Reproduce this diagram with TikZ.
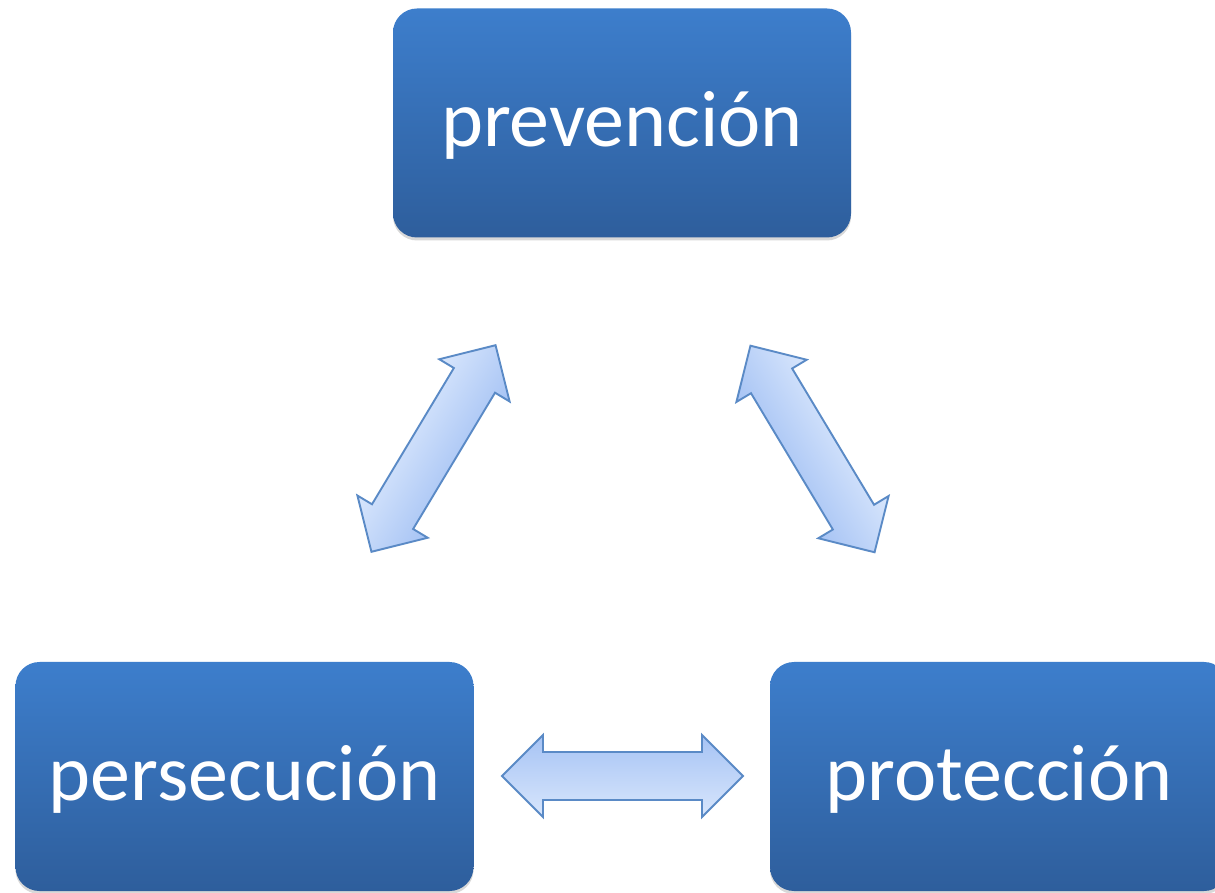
\documentclass[tikz,border=0pt]{standalone}
\usepackage{fontspec}
\setmainfont{Carlito}
\usetikzlibrary{shadows}
\definecolor{boxtop}{HTML}{3D7ECC}
\definecolor{boxbot}{HTML}{2E5E9C}
\definecolor{arrtop}{HTML}{A6C3F4}
\definecolor{arrbot}{HTML}{D8E6FC}
\definecolor{arrline}{HTML}{5A8AC6}
\tikzset{
  box/.style={rectangle, rounded corners=24pt, minimum width=458pt, minimum height=229pt,
    inner sep=0pt, top color=boxtop, bottom color=boxbot, text=white,
    font=\fontsize{80}{96}\selectfont, text height=62pt, text depth=14pt,
    drop shadow={shadow xshift=0pt, shadow yshift=-3pt, opacity=0.25, fill=black!60}},
  blockarrow/.style={draw=arrline, line width=1.9pt, line join=miter,
    top color=arrtop, bottom color=arrbot},
}
\newcommand{\dblarrowpath}{(-120.5,0) -- (-79.5,41) -- (-79.5,24) -- (79.5,24) -- (79.5,41) -- (120.5,0) -- (79.5,-41) -- (79.5,-24) -- (-79.5,-24) -- (-79.5,-41) -- cycle}
\begin{document}
\begin{tikzpicture}[x=1pt,y=1pt]
\useasboundingbox (0,0) rectangle (1215,892);
\fill[white] (0,0) rectangle (1215,892);
% boxes
\node[box] (prev) at (622,769) {prevención};
\node[box] (pers) at (244.5,115.5) {persecución};
\node[box] (prot) at (999,115.5) {protección};
% arrow centres
\coordinate (aL) at (433.5,443.5);
\coordinate (aR) at (812.5,443);
\coordinate (aB) at (622.5,116);
% block arrows
\begin{scope}[transform canvas={shift={(433.5,443.5)},rotate=239}]
  \path[blockarrow] \dblarrowpath;
\end{scope}
\begin{scope}[transform canvas={shift={(812.5,443)},rotate=121}]
  \path[blockarrow] \dblarrowpath;
\end{scope}
\begin{scope}[transform canvas={shift={(622.5,116)}}]
  \path[blockarrow] \dblarrowpath;
\end{scope}
\end{tikzpicture}
\end{document}
